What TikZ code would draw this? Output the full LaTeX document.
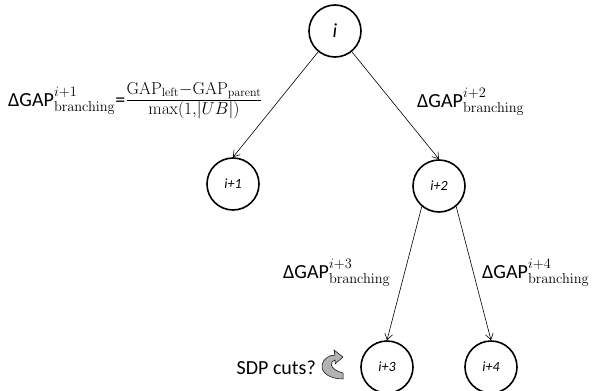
\documentclass[tikz,border=0pt]{standalone}
\usepackage[no-math]{fontspec}
\setmainfont{Carlito}
\usetikzlibrary{arrows.meta, positioning}

\newcommand{\dgap}[1]{ΔGAP$^{\raisebox{1.5pt}{$\scriptstyle #1$}}_{\mathrm{branching}}$}

\begin{document}
\begin{tikzpicture}[
    x=1pt, y=-1pt,
    font=\fontsize{20}{24}\selectfont,
    vertex/.style={
        draw=black,
        circle,
        minimum size=52pt,
        inner sep=0pt,
        line width=1.6pt
    },
    child/.style={
        vertex,
        font=\fontsize{14}{16}\selectfont\itshape
    },
    arrow/.style={
        -{Straight Barb[length=6pt,width=8pt]},
        line width=0.6pt,
        draw=black
    },
    gaplabel/.style={
        anchor=base west,
        inner sep=0pt
    },
    cutarrow/.style={
        draw=black,
        line width=0.5pt,
        fill=black!30
    }
]
\useasboundingbox (0,0) rectangle (598,391);

% ============================================================
% Tree of branch-and-bound nodes
% ============================================================

\node[vertex, font=\fontsize{20}{24}\selectfont\itshape] (i) at (335,31) {i};

\foreach \n/\x/\y in {1/233/184,2/439/186,3/387/367,4/491/367} {
    \node[child] (i\n) at (\x,\y) {i+\n};
}

\draw[arrow] (i) -- (i1.north);
\draw[arrow] (i) -- (i2.north);
\draw[arrow] (i2.-130) -- (i3.north);
\draw[arrow] (i2.-50) -- (i4.north);

% ============================================================
% Gap labels
% ============================================================

\node[gaplabel] (d1) at (8,106)
    {\dgap{i+1}={\fontsize{24}{26}\selectfont$\frac{\mathrm{GAP}_{\mathrm{left}}-\mathrm{GAP}_{\mathrm{parent}}}{\max(1,|UB|)}$}};
\node[gaplabel] (d2) at (417,107) {\dgap{i+2}};
\node[gaplabel] (d3) at (283,278) {\dgap{i+3}};
\node[gaplabel] (d4) at (482,278) {\dgap{i+4}};

% ============================================================
% SDP cuts with curved arrow
% ============================================================

\node[anchor=base east, inner sep=0pt] (sdp) at (316,374) {SDP cuts?};

\draw[cutarrow] (343,379)
    .. controls (330,379) and (321,373) .. (322,365)
    .. controls (323,359) and (329,355) .. (335,355)
    -- (334,350) -- (343,357) -- (335,364) -- (335,360)
    .. controls (330,361) and (328,369) .. (343,373) -- cycle;
\end{tikzpicture}
\end{document}
